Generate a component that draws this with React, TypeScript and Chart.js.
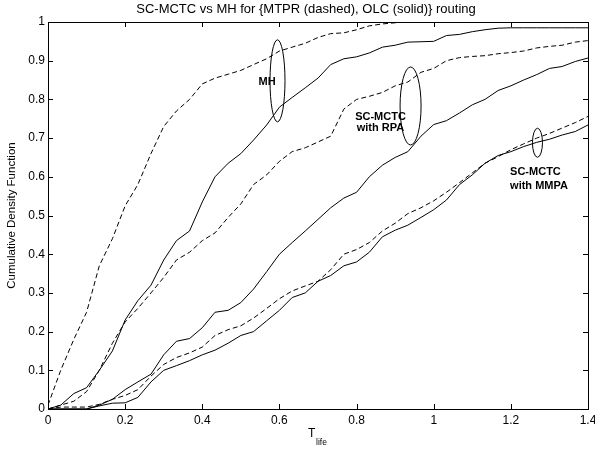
import React, { useEffect, useRef } from "react";
import { Chart, registerables } from "chart.js";

Chart.register(...registerables);

// T_life sample grid
const tLife = [
  0, 0.033, 0.067, 0.1, 0.133, 0.167, 0.2, 0.233, 0.267, 0.3, 0.333, 0.367, 0.4, 0.433,
  0.467, 0.5, 0.533, 0.567, 0.6, 0.633, 0.667, 0.7, 0.733, 0.767, 0.8, 0.833, 0.867, 0.9,
  0.933, 0.967, 1.0, 1.033, 1.067, 1.1, 1.133, 1.167, 1.2, 1.233, 1.267, 1.3, 1.333, 1.367, 1.4,
];

// MH, MTPR (dashed)
const mhMtpr = [
  0.01, 0.1, 0.18, 0.25, 0.37, 0.44, 0.525, 0.58, 0.66, 0.73, 0.77, 0.8, 0.84, 0.855,
  0.865, 0.875, 0.89, 0.905, 0.925, 0.935, 0.945, 0.96, 0.97, 0.972, 0.98, 0.99, 0.995, 0.998,
  1.0, 1.0, 1.0, 1.0, 1.0, 1.0, 1.0, 1.0, 1.0, 1.0, 1.0, 1.0, 1.0, 1.0, 1.0,
];
// MH, OLC (solid)
const mhOlc = [
  0.0, 0.01, 0.04, 0.055, 0.1, 0.15, 0.23, 0.28, 0.32, 0.385, 0.435, 0.46, 0.535, 0.6,
  0.635, 0.66, 0.695, 0.734, 0.78, 0.805, 0.83, 0.855, 0.89, 0.905, 0.91, 0.92, 0.935, 0.94,
  0.948, 0.949, 0.95, 0.965, 0.968, 0.975, 0.98, 0.984, 0.985, 0.985, 0.985, 0.985, 0.985, 0.985, 0.985,
];
// SC-MCTC with RPA, MTPR (dashed)
const rpaMtpr = [
  0.0, 0.01, 0.02, 0.045, 0.1, 0.17, 0.225, 0.26, 0.3, 0.34, 0.385, 0.405, 0.435, 0.455,
  0.495, 0.53, 0.58, 0.605, 0.64, 0.665, 0.675, 0.69, 0.705, 0.775, 0.8, 0.808, 0.818, 0.835,
  0.845, 0.87, 0.88, 0.9, 0.908, 0.911, 0.913, 0.918, 0.921, 0.925, 0.933, 0.937, 0.94, 0.948, 0.952,
];
// SC-MCTC with RPA, OLC (solid)
const rpaOlc = [
  0, 0, 0, 0, 0.01, 0.025, 0.05, 0.07, 0.09, 0.14, 0.175, 0.182, 0.21, 0.25,
  0.255, 0.275, 0.31, 0.355, 0.4, 0.43, 0.46, 0.49, 0.52, 0.545, 0.56, 0.6, 0.63, 0.65,
  0.665, 0.705, 0.735, 0.745, 0.765, 0.786, 0.8, 0.823, 0.835, 0.85, 0.864, 0.88, 0.885, 0.898, 0.907,
];
// SC-MCTC with MMPA, MTPR (dashed)
const mmpaMtpr = [
  0.0, 0.005, 0.005, 0.005, 0.012, 0.025, 0.035, 0.05, 0.085, 0.115, 0.133, 0.145, 0.16, 0.19,
  0.205, 0.215, 0.235, 0.26, 0.285, 0.305, 0.318, 0.33, 0.36, 0.4, 0.412, 0.43, 0.46, 0.48,
  0.505, 0.52, 0.538, 0.56, 0.585, 0.61, 0.635, 0.652, 0.67, 0.685, 0.7, 0.712, 0.726, 0.74, 0.756,
];
// SC-MCTC with MMPA, OLC (solid)
const mmpaOlc = [
  0, 0, 0, 0, 0.008, 0.015, 0.016, 0.03, 0.07, 0.1, 0.112, 0.125, 0.14, 0.152,
  0.17, 0.19, 0.2, 0.228, 0.255, 0.288, 0.3, 0.33, 0.345, 0.37, 0.38, 0.405, 0.445, 0.462,
  0.475, 0.495, 0.515, 0.54, 0.58, 0.605, 0.635, 0.655, 0.665, 0.678, 0.689, 0.697, 0.708, 0.717, 0.734,
];

const xTicks = [0, 0.2, 0.4, 0.6, 0.8, 1, 1.2, 1.4];
const yTicks = [0, 0.1, 0.2, 0.3, 0.4, 0.5, 0.6, 0.7, 0.8, 0.9, 1];

const titleText = "SC-MCTC vs MH for {MTPR (dashed), OLC (solid)} routing";
const yLabelText = "Cumulative Density Function";
const xLabelMain = "T";
const xLabelSub = "life";

const FONT = "'Liberation Sans', Arial, Helvetica, sans-serif";

const pts = (ys: number[]) => ys.map((y, i) => ({ x: tLife[i], y }));

const decorPlugin = {
  id: "decor",
  afterDraw(chart: any) {
    const { ctx, chartArea, scales } = chart;
    const { left, right, top, bottom } = chartArea;
    const xs = scales.x;
    const ys = scales.y;
    ctx.save();
    ctx.strokeStyle = "#000";
    ctx.fillStyle = "#000";
    ctx.lineWidth = 1;
    // box
    ctx.strokeRect(Math.round(left) + 0.5, Math.round(top) + 0.5, Math.round(right - left), Math.round(bottom - top));
    // inward ticks
    const tl = 5;
    ctx.beginPath();
    xTicks.forEach((v) => {
      const px = Math.round(xs.getPixelForValue(v)) + 0.5;
      ctx.moveTo(px, bottom);
      ctx.lineTo(px, bottom - tl);
      ctx.moveTo(px, top);
      ctx.lineTo(px, top + tl);
    });
    yTicks.forEach((v) => {
      const py = Math.round(ys.getPixelForValue(v)) + 0.5;
      ctx.moveTo(left, py);
      ctx.lineTo(left + tl, py);
      ctx.moveTo(right, py);
      ctx.lineTo(right - tl, py);
    });
    ctx.stroke();

    // title
    ctx.font = `13px ${FONT}`;
    ctx.textAlign = "center";
    ctx.textBaseline = "middle";
    ctx.fillText(titleText, 306, top - 13);

    // y label
    ctx.save();
    ctx.font = `11.5px ${FONT}`;
    ctx.translate(12, (top + bottom) / 2);
    ctx.rotate(-Math.PI / 2);
    ctx.fillText(yLabelText, 0, 0);
    ctx.restore();

    // x label with subscript
    ctx.textAlign = "left";
    ctx.font = `12px ${FONT}`;
    ctx.fillText(xLabelMain, 308, bottom + 25);
    ctx.font = `8.5px ${FONT}`;
    ctx.fillText(xLabelSub, 316, bottom + 34);

    // annotations
    const ellipse = (dx: number, dy: number, rx: number, ry: number) => {
      ctx.beginPath();
      ctx.ellipse(xs.getPixelForValue(dx), ys.getPixelForValue(dy), rx, ry, 0, 0, Math.PI * 2);
      ctx.stroke();
    };
    ellipse(0.595, 0.848, 7.5, 41);
    ellipse(0.94, 0.783, 10.5, 39);
    ellipse(1.269, 0.688, 5, 14.5);

    ctx.font = `bold 11px ${FONT}`;
    ctx.textAlign = "center";
    ctx.fillText("MH", xs.getPixelForValue(0.568), ys.getPixelForValue(0.845));
    ctx.fillText("SC-MCTC", xs.getPixelForValue(0.862), ys.getPixelForValue(0.755));
    ctx.fillText("with RPA", xs.getPixelForValue(0.862), ys.getPixelForValue(0.725));
    ctx.textAlign = "left";
    ctx.fillText("SC-MCTC", xs.getPixelForValue(1.198), ys.getPixelForValue(0.613));
    ctx.fillText("with MMPA", xs.getPixelForValue(1.198), ys.getPixelForValue(0.576));
    ctx.restore();
  },
};

export default function App() {
  const ref = useRef<HTMLCanvasElement | null>(null);
  useEffect(() => {
    if (!ref.current) return;
    const line = (ys: number[], dashed: boolean) => ({
      data: pts(ys),
      borderColor: "#000",
      borderWidth: 1,
      borderDash: dashed ? [5, 3] : [],
      pointRadius: 0,
      tension: 0,
      fill: false,
    });
    const chart = new Chart(ref.current, {
      type: "line",
      data: {
        datasets: [
          line(mhMtpr, true),
          line(mhOlc, false),
          line(rpaMtpr, true),
          line(rpaOlc, false),
          line(mmpaMtpr, true),
          line(mmpaOlc, false),
        ],
      },
      options: {
        animation: false,
        responsive: false,
        devicePixelRatio: 1,
        layout: { padding: { top: 22, right: 7, left: 0, bottom: 0 } },
        plugins: { legend: { display: false }, tooltip: { enabled: false }, title: { display: false } },
        scales: {
          x: {
            type: "linear",
            min: 0,
            max: 1.4,
            grid: { display: false, drawTicks: false },
            border: { display: false },
            afterBuildTicks: (s: any) => {
              s.ticks = xTicks.map((v) => ({ value: v }));
            },
            afterFit: (s: any) => {
              s.height = 42;
              s.paddingLeft = 0;
              s.paddingRight = 0;
            },
            ticks: {
              color: "#000",
              padding: 4,
              maxRotation: 0,
              autoSkip: false,
              font: { family: FONT, size: 12 },
              callback: (v: any) => String(Number(Number(v).toFixed(1))),
            },
          },
          y: {
            type: "linear",
            min: 0,
            max: 1,
            grid: { display: false, drawTicks: false },
            border: { display: false },
            afterBuildTicks: (s: any) => {
              s.ticks = yTicks.map((v) => ({ value: v }));
            },
            afterFit: (s: any) => {
              s.width = 48;
              s.paddingTop = 0;
              s.paddingBottom = 0;
            },
            ticks: {
              color: "#000",
              padding: 3,
              autoSkip: false,
              font: { family: FONT, size: 12 },
              callback: (v: any) => String(Number(Number(v).toFixed(1))),
            },
          },
        },
      },
      plugins: [decorPlugin],
    });
    return () => chart.destroy();
  }, []);
  return (
    <div style={{ position: "fixed", left: 0, top: 0, width: 595, height: 451, background: "#fff" }}>
      <canvas ref={ref} width={595} height={451} />
    </div>
  );
}
